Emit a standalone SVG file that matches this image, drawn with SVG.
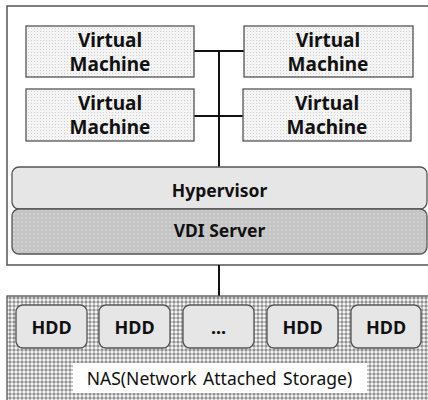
<svg xmlns="http://www.w3.org/2000/svg" width="428" height="400" viewBox="0 0 428 400">
  <defs>
    <pattern id="vmDots" width="3" height="3" patternUnits="userSpaceOnUse">
      <rect width="3" height="3" fill="#f4f4f4"/>
      <rect x="1" y="1" width="1" height="1" fill="#cfcfcf"/>
    </pattern>
    <pattern id="vdiDots" width="4" height="4" patternUnits="userSpaceOnUse">
      <rect width="4" height="4" fill="#c4c4c4"/>
      <circle cx="2" cy="2" r="0.7" fill="#e8e8e8"/>
    </pattern>
    <pattern id="nasDots" width="4" height="4" patternUnits="userSpaceOnUse">
      <rect width="4" height="4" fill="#ffffff"/>
      <circle cx="2" cy="2" r="1.7" fill="#939393"/>
    </pattern>
    <style>
      .frame { fill: #ffffff; stroke: #555555; stroke-width: 1.5; }
      .vm { fill: url(#vmDots); stroke: #555555; stroke-width: 1.3; }
      .hyp { fill: #e6e6e6; stroke: #555555; stroke-width: 1.3; }
      .vdi { fill: url(#vdiDots); stroke: #555555; stroke-width: 1.3; }
      .nas { fill: url(#nasDots); stroke: #555555; stroke-width: 1.3; }
      .hdd { fill: #e6e6e6; stroke: #555555; stroke-width: 1.3; }
      .label { fill: #ffffff; stroke: none; }
      .line { stroke: #111111; stroke-width: 2; fill: none; }
      .bold { font-family: "Noto Sans", "Liberation Sans", sans-serif; font-weight: bold; fill: #111111; text-anchor: middle; }
      .reg { font-family: "Noto Sans", "Liberation Sans", sans-serif; fill: #111111; text-anchor: middle; }
    </style>
  </defs>

  <rect width="428" height="400" fill="#ffffff"/>

  <g id="server-frame">
    <rect class="frame" x="7" y="6" width="430" height="259"/>
  </g>

  <g id="connectors">
    <line class="line" x1="194" y1="51" x2="244" y2="51"/>
    <line class="line" x1="194" y1="116" x2="243" y2="116"/>
    <line class="line" x1="219" y1="51" x2="219" y2="167"/>
    <line class="line" x1="219" y1="265" x2="219" y2="296"/>
  </g>

  <g id="vm1">
    <rect class="vm" x="26" y="26" width="168" height="51"/>
    <text class="bold" x="110" y="47" font-size="19">Virtual</text>
    <text class="bold" x="110" y="71" font-size="19">Machine</text>
  </g>
  <g id="vm2">
    <rect class="vm" x="244" y="26" width="169" height="51"/>
    <text class="bold" x="328" y="47" font-size="19">Virtual</text>
    <text class="bold" x="328" y="71" font-size="19">Machine</text>
  </g>
  <g id="vm3">
    <rect class="vm" x="26" y="89" width="168" height="52"/>
    <text class="bold" x="110" y="110" font-size="19">Virtual</text>
    <text class="bold" x="110" y="134" font-size="19">Machine</text>
  </g>
  <g id="vm4">
    <rect class="vm" x="243" y="89" width="168" height="52"/>
    <text class="bold" x="327" y="110" font-size="19">Virtual</text>
    <text class="bold" x="327" y="134" font-size="19">Machine</text>
  </g>

  <g id="hypervisor">
    <rect class="hyp" x="12" y="167" width="415" height="42" rx="7"/>
    <text class="bold" x="219.5" y="197" font-size="17.5">Hypervisor</text>
  </g>
  <g id="vdi-server">
    <rect class="vdi" x="12" y="209" width="415" height="45" rx="7"/>
    <text class="bold" x="219.5" y="237" font-size="17.5">VDI Server</text>
  </g>

  <g id="nas">
    <rect class="nas" x="7" y="296" width="430" height="110"/>
    <rect class="label" x="73" y="363" width="294" height="30"/>
    <text class="reg" x="219.5" y="385" font-size="17.5" word-spacing="2">NAS(Network Attached Storage)</text>
  </g>

  <g id="hdd1">
    <rect class="hdd" x="16" y="305" width="71" height="43" rx="7"/>
    <text class="bold" x="51.5" y="334" font-size="18">HDD</text>
  </g>
  <g id="hdd2">
    <rect class="hdd" x="99" y="305" width="71" height="43" rx="7"/>
    <text class="bold" x="134.5" y="334" font-size="18">HDD</text>
  </g>
  <g id="hdd-more">
    <rect class="hdd" x="183" y="305" width="71" height="43" rx="7"/>
    <text class="bold" x="218.5" y="334" font-size="18">...</text>
  </g>
  <g id="hdd3">
    <rect class="hdd" x="267" y="305" width="71" height="43" rx="7"/>
    <text class="bold" x="302.5" y="334" font-size="18">HDD</text>
  </g>
  <g id="hdd4">
    <rect class="hdd" x="351" y="305" width="70" height="43" rx="7"/>
    <text class="bold" x="386" y="334" font-size="18">HDD</text>
  </g>
</svg>
